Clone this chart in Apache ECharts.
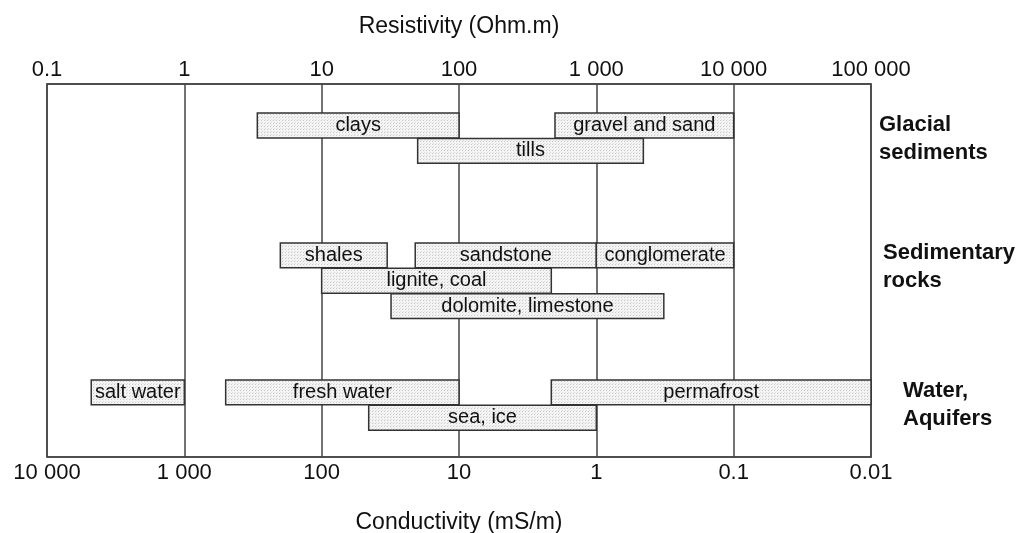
<!DOCTYPE html>
<html>
<head>
<meta charset="utf-8">
<script src="https://cdn.jsdelivr.net/npm/echarts@6/dist/echarts.min.js"></script>
<style>
  html, body { margin: 0; padding: 0; background: #fff; }
  #main { width: 1027px; height: 533px; }
</style>
</head>
<body>
<div id="main"></div>
<script>
// ranges in Ohm.m
var materials = ['clays', 'gravel and sand', 'tills',
                 'shales', 'sandstone', 'conglomerate', 'lignite, coal', 'dolomite, limestone',
                 'salt water', 'fresh water', 'permafrost', 'sea, ice'];
var resMin = [3.4, 500, 50, 5, 48, 1000, 10, 32, 0.21, 2, 470, 22];
var resMax = [100, 10000, 2200, 30, 1000, 10000, 470, 3100, 1, 100, 100000, 1000];
// which group each material belongs to, and its lane inside the group
var groupOf = [0, 0, 0, 1, 1, 1, 1, 1, 2, 2, 2, 2];
var laneOf = [0, 0, 1, 0, 0, 0, 1, 2, 0, 0, 0, 1];
var groups = ['Glacial\nsediments', 'Sedimentary\nrocks', 'Water,\nAquifers'];

var FONT = '"Liberation Sans", Arial, Helvetica, sans-serif';
var groupTop = [1.17, 6.39, 11.9];   // in lane units on the hidden y axis

function fmt(v) {
  if (v >= 1) {
    return String(Math.round(v)).replace(/\B(?=(\d{3})+(?!\d))/g, ' ');
  }
  return String(parseFloat(v.toPrecision(2)));
}

// stippled fill like the print
var tile = document.createElement('canvas');
tile.width = 3; tile.height = 3;
var tc = tile.getContext('2d');
tc.fillStyle = '#f4f4f4';
tc.fillRect(0, 0, 3, 3);
tc.fillStyle = '#c8c8c8';
tc.fillRect(0, 0, 1, 1);
tc.fillStyle = '#dedede';
tc.fillRect(1, 2, 1, 1);

var barData = materials.map(function (m, i) {
  return { name: m, value: [resMin[i], resMax[i], groupTop[groupOf[i]] + laneOf[i] * 1.02] };
});

var myChart = echarts.init(document.getElementById('main'));

var option = {
  animation: false,
  grid: {
    left: 47, right: 156, top: 84, bottom: 76,
    outerBoundsMode: 'none',
    show: true, borderColor: '#444', borderWidth: 1.5
  },
  xAxis: [
    {
      type: 'log', position: 'top', min: 0.1, max: 100000, interval: 1,
      name: 'Resistivity (Ohm.m)', nameLocation: 'middle', nameGap: 46,
      nameTextStyle: { fontFamily: FONT, fontSize: 23, color: '#111' },
      axisLine: { lineStyle: { color: '#444', width: 1.5 } },
      axisTick: { show: false },
      axisLabel: { fontFamily: FONT, fontSize: 22, color: '#111', margin: 3, formatter: fmt },
      splitLine: { show: true, lineStyle: { color: '#444', width: 1.5 } }
    },
    {
      type: 'log', position: 'bottom', min: 0.01, max: 10000, interval: 1, inverse: true,
      name: 'Conductivity (mS/m)', nameLocation: 'middle', nameGap: 54,
      nameTextStyle: { fontFamily: FONT, fontSize: 23, color: '#111' },
      axisLine: { lineStyle: { color: '#444', width: 1.5 } },
      axisTick: { show: false },
      axisLabel: { fontFamily: FONT, fontSize: 22, color: '#111', margin: 5, formatter: fmt },
      splitLine: { show: false }
    }
  ],
  yAxis: { type: 'value', min: 0, max: 15, inverse: true, show: false },
  series: [{
    type: 'custom',
    xAxisIndex: 0,
    data: barData,
    renderItem: function (params, api) {
      var a = api.coord([api.value(0), api.value(2)]);
      var b = api.coord([api.value(1), api.value(2) + 1]);
      return {
        type: 'rect',
        shape: { x: a[0], y: a[1], width: b[0] - a[0], height: b[1] - a[1] },
        style: { fill: { image: tile, repeat: 'repeat' }, stroke: '#333', lineWidth: 1.5 },
        textContent: {
          style: {
            text: materials[params.dataIndex],
            fontFamily: FONT, fontSize: 20, fill: '#111'
          }
        },
        textConfig: { position: 'inside' }
      };
    }
  }],
  graphic: [
    { type: 'text', left: 879, top: 111, style: { text: groups[0], font: 'bold 22px ' + FONT, lineHeight: 28, fill: '#111' } },
    { type: 'text', left: 883, top: 239, style: { text: groups[1], font: 'bold 22px ' + FONT, lineHeight: 28, fill: '#111' } },
    { type: 'text', left: 903, top: 377, style: { text: groups[2], font: 'bold 22px ' + FONT, lineHeight: 28, fill: '#111' } }
  ]
};

myChart.setOption(option);
</script>
</body>
</html>
